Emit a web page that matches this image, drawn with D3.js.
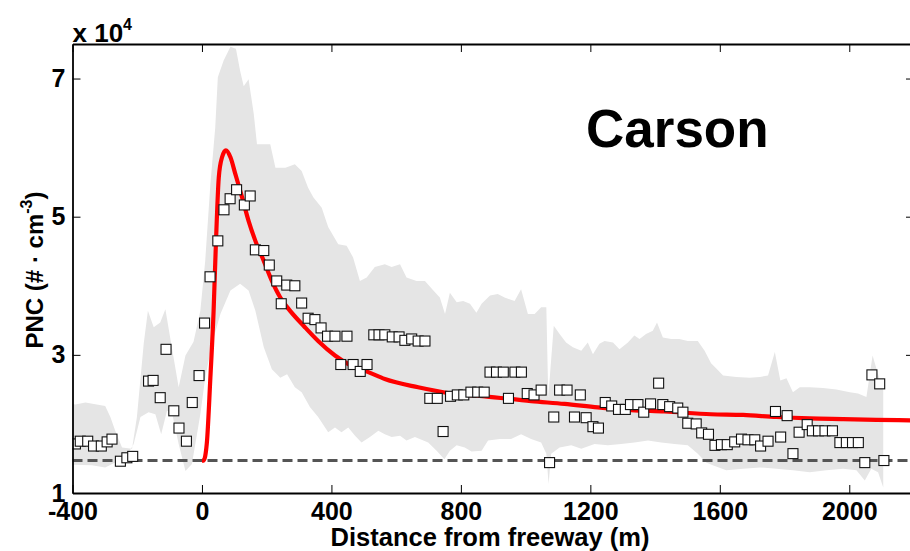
<!DOCTYPE html>
<html>
<head>
<meta charset="utf-8">
<script src="https://cdn.jsdelivr.net/npm/d3@7"></script>
<style>
body { margin: 0; background: #fff; }
svg text { font-family: Arial, "Liberation Sans", Helvetica, sans-serif; font-weight: bold; }
</style>
</head>
<body>
<div class="chart"></div>
<script>
// ---- data (distance in m, PNC in units of 1e4 #/cm3) ----
var xTicks = [-400, 0, 400, 800, 1200, 1600, 2000];
var yTicks = [1, 3, 5, 7];
var background = 1.47;

var obsDist = [-391, -376, -353, -335, -311, -293, -278, -252, -232, -214,
	-165, -151, -129, -111, -87, -71, -48, -30, -9, 8,
	25, 49, 68, 87, 107, 131, 149, 165, 191, 208,
	231, 245, 262, 287, 308, 328, 349, 368, 388, 411,
	448, 429, 467, 489, 510, 531, 547, 565, 588, 609,
	627, 648, 668, 689, 704, 727, 745, 768, 789, 809,
	831, 852, 872, 890, 910, 931, 947, 967, 987, 1005,
	1026, 1048, 1074, 1087, 1105, 1128, 1151, 1169, 1187, 1208,
	1225, 1246, 1266, 1287, 1308, 1324, 1347, 1365, 1386, 1411,
	1424, 1445, 1470, 1486, 1501, 1527, 1544, 1565, 1585, 1605,
	1623, 1646, 1667, 1687, 1708, 1726, 1749, 1772, 1788, 1808,
	1826, 1845, 1870, 1886, 1905, 1925, 1948, 1971, 1991, 2010,
	2028, 2048, 2070, 2094, 2107];
var obsPnc = [1.71, 1.75, 1.75, 1.68, 1.68, 1.74, 1.78, 1.46, 1.51, 1.53,
	2.62, 2.63, 2.38, 3.08, 2.19, 1.94, 1.75, 2.31, 2.70, 3.46,
	4.13, 4.65, 5.10, 5.26, 5.39, 5.17, 5.30, 4.52, 4.51, 4.30,
	4.07, 3.74, 4.01, 4.00, 3.75, 3.53, 3.51, 3.39, 3.27, 3.27,
	3.27, 2.86, 2.86, 2.76, 2.86, 3.29, 3.29, 3.29, 3.26, 3.26,
	3.21, 3.23, 3.20, 3.20, 2.37, 2.37, 1.89, 2.40, 2.42, 2.42,
	2.46, 2.46, 2.46, 2.75, 2.75, 2.75, 2.37, 2.75, 2.75, 2.44,
	2.42, 2.49, 1.44, 2.10, 2.49, 2.49, 2.10, 2.42, 2.09, 1.96,
	1.94, 2.31, 2.26, 2.21, 2.21, 2.28, 2.28, 2.17, 2.29, 2.59,
	2.28, 2.25, 2.23, 2.17, 2.01, 2.00, 1.87, 1.85, 1.69, 1.70,
	1.70, 1.74, 1.78, 1.77, 1.77, 1.68, 1.75, 2.18, 1.81, 2.12,
	1.57, 1.88, 1.99, 1.90, 1.90, 1.90, 1.90, 1.73, 1.73, 1.73,
	1.73, 1.44, 2.71, 2.58, 1.47];

var fitDist = [0, 5, 15, 26, 36, 43, 52, 62, 74, 88, 103, 124, 144, 165, 191, 216, 242, 265,
	318, 359, 411, 462, 514, 565, 668, 771, 874, 1017, 1120, 1223, 1326, 1429, 1573,
	1672, 1775, 1878, 1981, 2084, 2200];
var fitPnc = [1.47, 1.47, 1.72, 2.67, 3.64, 4.60, 5.57, 5.86, 5.96, 5.86, 5.62, 5.28, 4.94, 4.65, 4.36, 4.07, 3.83, 3.68,
	3.40, 3.20, 2.99, 2.84, 2.75, 2.65, 2.53, 2.44, 2.40, 2.33, 2.29, 2.24, 2.20, 2.18, 2.14,
	2.13, 2.10, 2.08, 2.07, 2.06, 2.05];

var bandUpper = [[-400,2.29],[-391,2.28],[-360,2.31],[-299,2.26],[-283,2.10],[-268,1.90],[-247,1.66],[-216,1.64],
	[-201,2.10],[-180,3.16],[-167,3.64],[-149,3.40],[-129,3.47],[-113,3.66],[-95,3.16],[-72,2.53],[-51,2.99],
	[-26,3.19],[-5,3.64],[10,4.36],[26,5.47],[41,6.29],[49,7.02],[67,7.26],[88,7.46],[105,7.43],[118,7.11],
	[129,6.89],[144,6.99],[160,6.49],[170,6.05],[191,6.05],[211,6.05],[227,5.71],[258,5.71],[287,5.76],[308,5.66],
	[328,5.42],[344,5.28],[370,5.13],[390,4.85],[421,4.60],[447,4.58],[467,4.41],[488,4.07],[509,4.12],[534,4.27],
	[565,4.31],[586,4.27],[612,4.31],[632,4.12],[663,4.07],[689,4.07],[715,3.93],[735,3.83],[751,3.59],[766,3.90],
	[787,3.76],[807,3.78],[828,3.74],[848,3.61],[864,3.74],[890,3.86],[914,3.88],[935,3.83],[966,3.78],[986,3.95],
	[1007,3.59],[1028,3.59],[1048,3.69],[1064,3.69],[1070,2.39],[1087,3.42],[1105,3.30],[1125,3.18],[1146,3.11],
	[1172,3.06],[1192,3.18],[1208,3.01],[1228,3.16],[1244,3.20],[1270,3.18],[1290,3.08],[1316,3.18],[1336,3.28],
	[1352,3.23],[1372,3.30],[1393,3.35],[1406,3.47],[1424,3.25],[1450,3.23],[1475,3.23],[1501,3.20],[1532,3.20],
	[1553,3.06],[1573,2.88],[1590,2.80],[1610,2.70],[1651,2.68],[1693,2.67],[1724,2.68],[1749,2.70],[1770,3.04],
	[1787,2.63],[1806,2.66],[1826,2.46],[1847,2.53],[1878,2.53],[1919,2.52],[1960,2.50],[2002,2.46],[2027,2.44],
	[2053,2.39],[2072,2.99],[2089,2.72],[2105,2.48]];
var bandLower = [[-400,1.41],[-340,1.40],[-299,1.37],[-268,1.44],[-232,1.54],[-211,1.71],[-190,2.10],[-165,2.17],
	[-144,2.14],[-126,1.85],[-108,2.19],[-93,2.17],[-72,1.71],[-51,1.32],[-31,1.42],[-5,2.14],[10,2.67],[31,3.16],
	[57,3.59],[88,3.93],[118,4.03],[144,3.93],[165,3.64],[191,3.11],[216,2.79],[242,2.67],[263,2.72],[287,2.53],
	[308,2.46],[334,2.24],[359,2.10],[390,1.88],[411,1.95],[431,1.88],[452,1.95],[473,1.83],[493,1.73],[519,1.81],
	[545,1.90],[565,1.85],[586,1.81],[612,1.83],[632,1.76],[658,1.81],[699,1.73],[725,1.61],[749,1.49],[766,1.61],
	[787,1.69],[812,1.66],[833,1.60],[864,1.61],[884,1.76],[920,1.78],[955,1.78],[986,1.85],[1017,1.78],[1048,1.73],
	[1064,1.57],[1071,1.13],[1079,1.57],[1105,1.66],[1141,1.69],[1172,1.64],[1213,1.71],[1254,1.69],[1295,1.71],
	[1336,1.73],[1378,1.76],[1419,1.73],[1460,1.71],[1501,1.69],[1532,1.57],[1558,1.44],[1578,1.40],[1620,1.33],
	[1672,1.35],[1724,1.37],[1775,1.35],[1826,1.33],[1878,1.30],[1929,1.33],[1981,1.35],[2022,1.33],[2048,1.18],
	[2068,1.35],[2089,1.30],[2105,1.08]];

var w = 910, h = 551;
var pl = 72.5, pr = 914, pt = 44, pb = 493;

var svg = d3.select('.chart').append('svg')
	.attr('width', w)
	.attr('height', h);

var x = d3.scaleLinear().domain([-400, 2200]).range([pl, pr]);
var y = d3.scaleLinear().domain([1, 7.5]).range([pb, pt]);

svg.append('clipPath').attr('id', 'plot')
	.append('rect')
	.attr('x', pl).attr('y', pt)
	.attr('width', pr - pl).attr('height', pb - pt);

var plot = svg.append('g').attr('clip-path', 'url(#plot)');

var line = d3.line()
	.x(function(d){ return x(d[0]); })
	.y(function(d){ return y(d[1]); });

/*--------------------------- spread band ---------------------------*/
var bandPts = bandUpper.concat(bandLower.slice().reverse());
plot.append('path')
	.attr('d', line(bandPts) + 'Z')
	.attr('fill', '#e5e5e5')
	.attr('stroke', 'none');

/*--------------------------- background level ---------------------------*/
plot.append('path')
	.attr('d', line([[-400, background], [2200, background]]))
	.attr('fill', 'none')
	.attr('stroke', '#555')
	.attr('stroke-width', 3)
	.attr('stroke-dasharray', '10,5');

/*--------------------------- fitted curve ---------------------------*/
var fitPts = fitDist.map(function(d, i){ return [d, fitPnc[i]]; });
plot.append('path')
	.attr('d', line.curve(d3.curveMonotoneX)(fitPts))
	.attr('fill', 'none')
	.attr('stroke', '#ff0000')
	.attr('stroke-width', 4.2)
	.attr('stroke-linejoin', 'round');
line.curve(d3.curveLinear);

/*--------------------------- observations ---------------------------*/
var sq = 10;
plot.selectAll('.obs').data(obsDist)
	.enter()
	.append('rect')
	.attr('class', 'obs')
	.attr('x', function(d){ return x(d) - sq / 2; })
	.attr('y', function(d, i){ return y(obsPnc[i]) - sq / 2; })
	.attr('width', sq)
	.attr('height', sq)
	.attr('fill', 'white')
	.attr('stroke', '#111')
	.attr('stroke-width', 1.1);

/*--------------------------- axes ---------------------------*/
var plain = function(d){ return String(d); };

var styleAxis = function(g, fs){
	g.attr('font-size', fs).attr('font-family', null);
	g.select('.domain').attr('stroke', '#000').attr('stroke-width', 1.8);
	g.selectAll('.tick line').attr('stroke', '#000').attr('stroke-width', 1);
	g.selectAll('.tick text').attr('fill', '#000');
};

svg.append('g')
	.attr('transform', 'translate(0,' + pb + ')')
	.call(d3.axisBottom(x).tickValues(xTicks).tickFormat(plain).tickSizeInner(-8).tickSizeOuter(0).tickPadding(9))
	.call(styleAxis, 25);

svg.append('g')
	.attr('transform', 'translate(0,' + pt + ')')
	.call(d3.axisTop(x).tickValues(xTicks).tickSizeInner(-8).tickSizeOuter(0).tickFormat(''))
	.call(styleAxis, 25);

svg.append('g')
	.attr('transform', 'translate(' + pl + ',0)')
	.call(d3.axisLeft(y).tickValues(yTicks).tickFormat(plain).tickSizeInner(-8).tickSizeOuter(0).tickPadding(7))
	.call(styleAxis, 25);

svg.append('g')
	.attr('transform', 'translate(' + pr + ',0)')
	.call(d3.axisRight(y).tickValues(yTicks).tickSizeInner(-8).tickSizeOuter(0).tickFormat(''))
	.call(styleAxis, 25);

/*--------------------------- labels ---------------------------*/
var expo = svg.append('text')
	.attr('x', pl)
	.attr('y', 41.5)
	.attr('font-size', 26);
expo.append('tspan').text('x 10');
expo.append('tspan').attr('dy', -12).attr('font-size', 16).text('4');

svg.append('text')
	.attr('x', 586)
	.attr('y', 147)
	.attr('font-size', 53)
	.text('Carson');

svg.append('text')
	.attr('x', 490)
	.attr('y', 546)
	.attr('text-anchor', 'middle')
	.attr('font-size', 25.5)
	.text('Distance from freeway (m)');

var ylab = svg.append('text')
	.attr('transform', 'translate(43,270) rotate(-90)')
	.attr('text-anchor', 'middle')
	.attr('font-size', 24);
ylab.append('tspan').text('PNC (# \u00b7 cm');
ylab.append('tspan').attr('dy', -11).attr('font-size', 16).text('-3');
ylab.append('tspan').attr('dy', 11).text(')');
</script>
</body>
</html>
